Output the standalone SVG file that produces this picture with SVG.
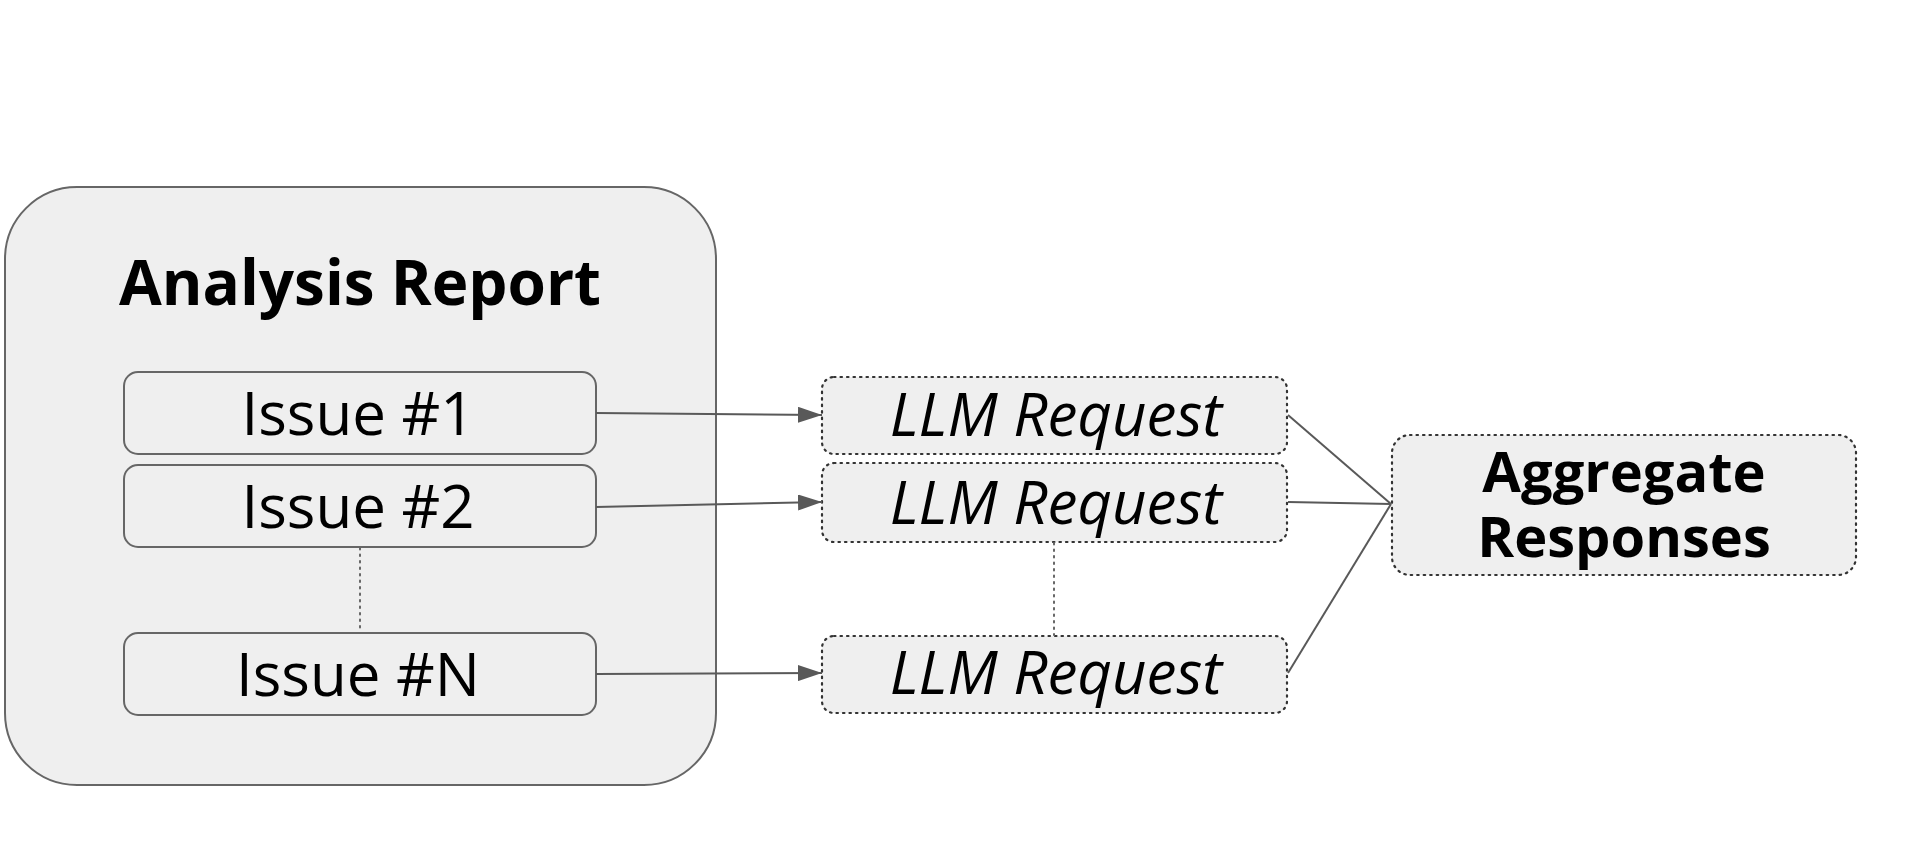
<svg xmlns="http://www.w3.org/2000/svg" width="1920" height="865" viewBox="0 0 1920 865">
<style>
.solid{fill:#efefef;stroke:#666;stroke-width:2}
.dotted{fill:#efefef;stroke:#333;stroke-width:2.2;stroke-dasharray:1.5 5;stroke-linecap:round}
.t{font-family:"Open Sans","Noto Sans",sans-serif;fill:#000;text-anchor:middle}
.title{font-weight:bold;font-size:62px}
.issue{font-size:60px}
.llm{font-style:italic;font-size:60px}
.agg{font-weight:bold;font-size:56px}
.conn{fill:none;stroke:#595959;stroke-width:2}
.dotline{fill:none;stroke:#666;stroke-width:2;stroke-dasharray:1.5 5;stroke-linecap:round}
</style>
<defs>
<marker id="arr" markerWidth="24" markerHeight="16" refX="24" refY="8" orient="auto" markerUnits="userSpaceOnUse" viewBox="0 0 24 16">
<path d="M0,0 L24,8 L0,16 Z" fill="#595959"/>
</marker>
</defs>
<rect width="1920" height="865" fill="#fff"/>
<g id="analysis-report">
<rect class="solid" x="5" y="187" width="711" height="598" rx="72"/>
<text class="t title" x="360" y="305">Analysis Report</text>
</g>
<g id="issue-1">
<rect class="solid" x="124" y="372" width="472" height="82" rx="14"/>
<text class="t issue" x="358" y="435">Issue #1</text>
</g>
<g id="issue-2">
<rect class="solid" x="124" y="465" width="472" height="82" rx="14"/>
<text class="t issue" x="358" y="528">Issue #2</text>
</g>
<g id="issue-n">
<rect class="solid" x="124" y="633" width="472" height="82" rx="14"/>
<text class="t issue" x="358" y="696">Issue #N</text>
</g>
<g id="llm-1">
<rect class="dotted" x="822" y="377" width="465" height="77" rx="12"/>
<text class="t llm" x="1056" y="436">LLM Request</text>
</g>
<g id="llm-2">
<rect class="dotted" x="822" y="463" width="465" height="79" rx="12"/>
<text class="t llm" x="1056" y="524">LLM Request</text>
</g>
<g id="llm-n">
<rect class="dotted" x="822" y="636" width="465" height="77" rx="12"/>
<text class="t llm" x="1056" y="694">LLM Request</text>
</g>
<g id="aggregate">
<rect class="dotted" x="1392" y="435" width="464" height="140" rx="18"/>
<text class="t agg" x="1624" y="492">Aggregate</text>
<text class="t agg" x="1624" y="557">Responses</text>
</g>
<g id="connectors">
<line class="dotline" x1="360" y1="548" x2="360" y2="632"/>
<line class="dotline" x1="1054" y1="543" x2="1054" y2="635"/>
<path class="conn" d="M596,413 L822,415" marker-end="url(#arr)"/>
<path class="conn" d="M596,507 L822,502" marker-end="url(#arr)"/>
<path class="conn" d="M596,674 L822,673" marker-end="url(#arr)"/>
<path class="conn" d="M1288,415 L1391,504"/>
<path class="conn" d="M1288,502 L1391,504"/>
<path class="conn" d="M1288,673 L1391,504"/>
</g>
</svg>
